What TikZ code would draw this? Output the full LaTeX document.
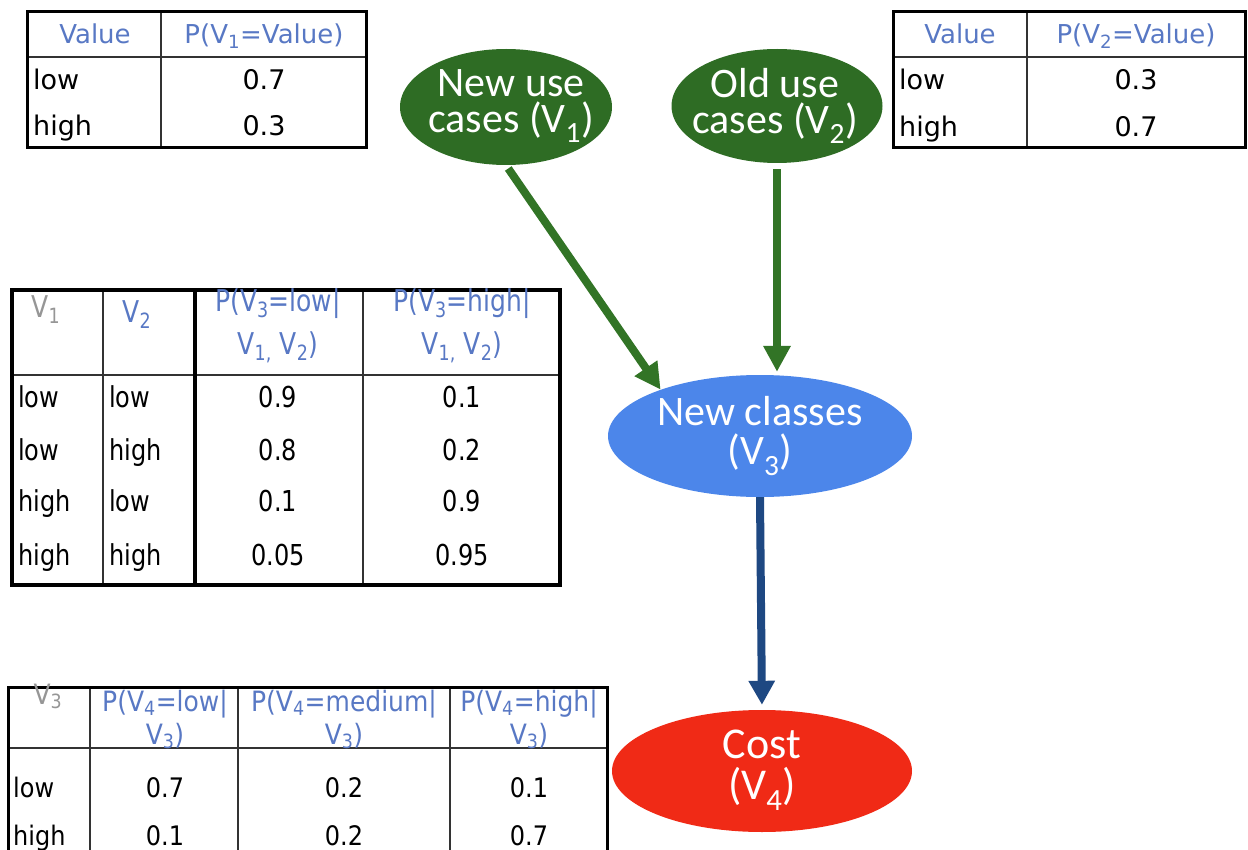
\documentclass[tikz,border=0pt]{standalone}
\usepackage{fontspec}
\usepackage{graphicx}
\newfontfamily\tabfont{DejaVu Sans}
\newfontfamily\nodefont{Carlito}
\usetikzlibrary{shapes.geometric,arrows.meta}
\newcommand\vst[1]{\scalebox{1}[1.2]{#1}}
\newcommand\vsu[1]{\scalebox{1}[1.12]{#1}}
\definecolor{hdr}{RGB}{88,120,196}
\definecolor{hgrey}{RGB}{150,150,150}
\definecolor{ngreen}{RGB}{46,108,36}
\definecolor{agreen}{RGB}{50,116,38}
\definecolor{nblue}{RGB}{76,134,234}
\definecolor{nred}{RGB}{240,42,22}
\definecolor{adark}{RGB}{30,72,130}
\begin{document}
\begin{tikzpicture}[x=1pt,y=-1pt,
  tbox/.style={draw=black,line width=3pt},
  tthick/.style={draw=black,line width=3pt},
  tline/.style={draw=black!80,line width=1.8pt},
  ta/.style={font=\tabfont\fontsize{27}{32}\selectfont,inner sep=0pt,anchor=base},
  tal/.style={ta,anchor=base west},
  tah/.style={font=\tabfont\fontsize{26}{31}\selectfont,inner sep=0pt,anchor=base,text=hdr},
  tb/.style={font=\tabfont\fontsize{24}{29}\selectfont,inner sep=0pt,anchor=base},
  tbl/.style={tb,anchor=base west},
  tbh/.style={font=\tabfont\fontsize{25}{30}\selectfont,inner sep=0pt,anchor=base,text=hdr},
  tc/.style={font=\tabfont\fontsize{24}{29}\selectfont,inner sep=0pt,anchor=base},
  tcl/.style={tc,anchor=base west},
  tch/.style={font=\tabfont\fontsize{25}{30}\selectfont,inner sep=0pt,anchor=base,text=hdr},
  bn/.style={ellipse,draw=none,inner sep=0pt},
  ntext/.style={font=\nodefont\fontsize{42}{36}\selectfont,text=white,align=center,inner sep=0pt},
  garrow/.style={draw=agreen,line width=8pt,-{Triangle[length=26pt,width=26pt]}},
  barrow/.style={draw=adark,line width=8pt,-{Triangle[length=24pt,width=25pt]}}
]
\useasboundingbox (0,0) rectangle (1248,850);

% ---------- Table P(V1)
\path[tline] (27,57) -- (366,57);
\path[tline,line width=2.5pt] (161,12) -- (161,148);
\path[tbox] (27,12) rectangle (366,148);
\node[tah] (a11) at (95,44) {Value};
\node[tah] (a12) at (264,44) {P(V\textsubscript{1}=Value)};
\node[tal] (a21) at (33,90) {low};
\node[ta] (a22) at (264,90) {0.7};
\node[tal] (a31) at (33,136) {high};
\node[ta] (a32) at (264,136) {0.3};

% ---------- Table P(V2)
\path[tline] (893,57) -- (1245,57);
\path[tline,line width=2.5pt] (1027,12) -- (1027,148);
\path[tbox] (893,12) rectangle (1245,148);
\node[tah] (b11) at (960,44) {Value};
\node[tah] (b12) at (1136,44) {P(V\textsubscript{2}=Value)};
\node[tal] (b21) at (899,90) {low};
\node[ta] (b22) at (1136,90) {0.3};
\node[tal] (b31) at (899,137) {high};
\node[ta] (b32) at (1136,137) {0.7};

% ---------- Table P(V3 | V1,V2)
\path[tline] (12,375) -- (560,375);
\path[tline] (103,290) -- (103,585);
\path[tthick,line width=3.5pt] (195,290) -- (195,585);
\path[tline] (363,290) -- (363,585);
\path[tbox,line width=3.5pt] (12,290) rectangle (560,585);
\node[tbh,text=hgrey] (c11) at (46,318) {\vst{V\textsubscript{1}}};
\node[tbh] (c12) at (137,323) {\vst{V\textsubscript{2}}};
\node[tbh] (c13a) at (278,312) {\vst{P(V\textsubscript{3}=low|}};
\node[tbh] (c13b) at (278,355) {\vst{V\textsubscript{1,} V\textsubscript{2})}};
\node[tbh] (c14a) at (462,312) {\vst{P(V\textsubscript{3}=high|}};
\node[tbh] (c14b) at (462,355) {\vst{V\textsubscript{1,} V\textsubscript{2})}};
\node[tbl] (c21) at (18,407) {\vst{low}};
\node[tbl] (c22) at (109,407) {\vst{low}};
\node[tb] (c23) at (278,407) {\vst{0.9}};
\node[tb] (c24) at (462,407) {\vst{0.1}};
\node[tbl] (c31) at (18,460) {\vst{low}};
\node[tbl] (c32) at (109,460) {\vst{high}};
\node[tb] (c33) at (278,460) {\vst{0.8}};
\node[tb] (c34) at (462,460) {\vst{0.2}};
\node[tbl] (c41) at (18,511) {\vst{high}};
\node[tbl] (c42) at (109,511) {\vst{low}};
\node[tb] (c43) at (278,511) {\vst{0.1}};
\node[tb] (c44) at (462,511) {\vst{0.9}};
\node[tbl] (c51) at (18,565) {\vst{high}};
\node[tbl] (c52) at (109,565) {\vst{high}};
\node[tb] (c53) at (278,565) {\vst{0.05}};
\node[tb] (c54) at (462,565) {\vst{0.95}};

% ---------- Table P(V4 | V3)
\path[tline] (8,748) -- (607,748);
\path[tline] (90,687) -- (90,860);
\path[tline] (238,687) -- (238,860);
\path[tline] (450,687) -- (450,860);
\path[tbox] (8,687) rectangle (607,860);
\node[tch,text=hgrey] (d11) at (48,704) {\vsu{V\textsubscript{3}}};
\node[tch] (d12a) at (165,711) {\vsu{P(V\textsubscript{4}=low|}};
\node[tch] (d12b) at (165,744) {\vsu{V\textsubscript{3})}};
\node[tch] (d13a) at (344,711) {\vsu{P(V\textsubscript{4}=medium|}};
\node[tch] (d13b) at (344,744) {\vsu{V\textsubscript{3})}};
\node[tch] (d14a) at (529,711) {\vsu{P(V\textsubscript{4}=high|}};
\node[tch] (d14b) at (529,744) {\vsu{V\textsubscript{3})}};
\node[tcl] (d21) at (13,797) {\vsu{low}};
\node[tc] (d22) at (165,797) {\vsu{0.7}};
\node[tc] (d23) at (344,797) {\vsu{0.2}};
\node[tc] (d24) at (529,797) {\vsu{0.1}};
\node[tcl] (d31) at (13,845) {\vsu{high}};
\node[tc] (d32) at (165,845) {\vsu{0.1}};
\node[tc] (d33) at (344,845) {\vsu{0.2}};
\node[tc] (d34) at (529,845) {\vsu{0.7}};

% ---------- Network nodes
\node[bn,fill=ngreen,minimum width=212pt,minimum height=116pt] (v1) at (506,107) {};
\node[ntext] (v1t) at (511,106) {New use\\cases (V\textsubscript{1})};
\node[bn,fill=ngreen,minimum width=211pt,minimum height=114pt] (v2) at (777,106) {};
\node[ntext] (v2t) at (775,106) {Old use\\cases (V\textsubscript{2})};
\node[bn,fill=nblue,minimum width=304pt,minimum height=122pt] (v3) at (760,436) {};
\node[ntext,font=\nodefont\fontsize{42}{39}\selectfont] (v3t) at (760,436) {New classes\\(V\textsubscript{3})};
\node[bn,fill=nred,minimum width=300pt,minimum height=122pt] (v4) at (762,771) {};
\node[ntext,font=\nodefont\fontsize{44}{41}\selectfont] (v4t) at (762,770) {Cost\\(V\textsubscript{4})};

% ---------- Connectors
\draw[garrow,shorten <=4pt] (v1.south) -- (v3.155);
\draw[garrow,shorten <=6pt,shorten >=3pt] (v2.south) -- (v2.south |- v3.north);
\draw[barrow,shorten >=5pt] (v3.south) -- (v4.north);
\end{tikzpicture}
\end{document}
